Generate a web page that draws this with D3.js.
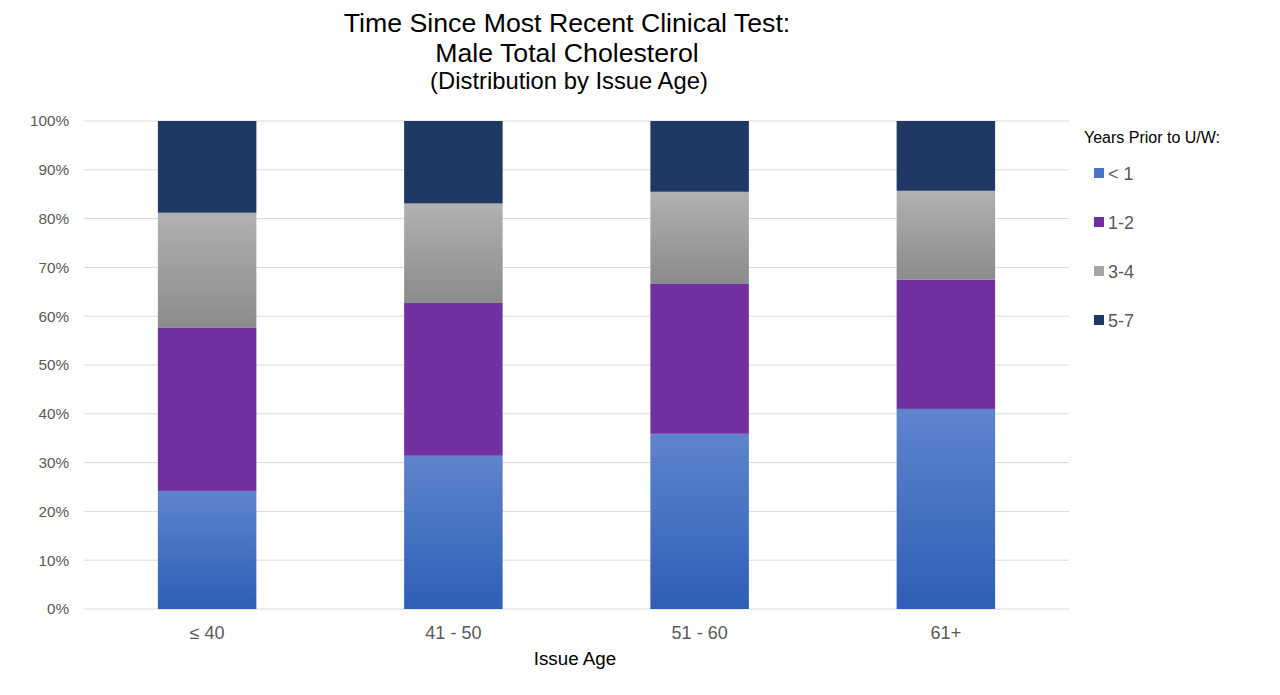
<!DOCTYPE html>
<html>
<head>
<meta charset="utf-8">
<script src="https://cdn.jsdelivr.net/npm/d3@7"></script>
<style>
  body { margin: 0; background: #fff; }
  svg { display: block; font-family: "Liberation Sans", Arial, sans-serif; }
</style>
</head>
<body>
<svg id="chart" width="1280" height="695"></svg>
<script>
const categories = ["\u2264 40", "41 - 50", "51 - 60", "61+"];
const seriesNames = ["< 1", "1-2", "3-4", "5-7"];
const lessThan1 = [24.2, 31.4, 35.9, 41.0];
const years1to2 = [33.4, 31.3, 30.7, 26.5];
const years3to4 = [23.6, 20.4, 18.9, 18.2];
const years5to7 = [18.8, 16.9, 14.5, 14.3];
const yTicks = [0, 10, 20, 30, 40, 50, 60, 70, 80, 90, 100];

const seriesValues = [lessThan1, years1to2, years3to4, years5to7];
const rows = categories.map((c, i) => {
  const r = { cat: c };
  seriesNames.forEach((s, j) => r[s] = seriesValues[j][i]);
  return r;
});

const svg = d3.select("#chart");
const margin = { left: 84, right: 1069, top: 121, bottom: 609 };

const x = d3.scaleBand().domain(categories).range([margin.left, margin.right]).paddingInner(0.6).paddingOuter(0.3);
const y = d3.scaleLinear().domain([0, 100]).range([margin.bottom, margin.top]);

// gradients
const defs = svg.append("defs");
const g1 = defs.append("linearGradient").attr("id", "gBlue").attr("x1", 0).attr("y1", 0).attr("x2", 0).attr("y2", 1);
g1.append("stop").attr("offset", "0%").attr("stop-color", "#5e85cc");
g1.append("stop").attr("offset", "100%").attr("stop-color", "#2e5eb6");
const g3 = defs.append("linearGradient").attr("id", "gGray").attr("x1", 0).attr("y1", 0).attr("x2", 0).attr("y2", 1);
g3.append("stop").attr("offset", "0%").attr("stop-color", "#b1b1b1");
g3.append("stop").attr("offset", "100%").attr("stop-color", "#8b8b8b");

const fills = { "< 1": "url(#gBlue)", "1-2": "#7030a0", "3-4": "url(#gGray)", "5-7": "#1f3864" };
const legendFills = { "< 1": "#4a75c4", "1-2": "#7030a0", "3-4": "#a5a5a5", "5-7": "#1f3864" };

// gridlines
svg.append("g").selectAll("line").data(yTicks).join("line")
  .attr("x1", margin.left).attr("x2", margin.right)
  .attr("y1", d => y(d)).attr("y2", d => y(d))
  .attr("stroke", "#d9d9d9").attr("stroke-width", 1);

// y axis labels
const yAxis = d3.axisLeft(y).tickValues(yTicks).tickFormat(d => d + "%").tickSize(0).tickPadding(15);
const yg = svg.append("g").attr("transform", `translate(${margin.left},0)`).call(yAxis);
yg.select(".domain").remove();
yg.selectAll("text").attr("fill", "#595959").style("font-size", "15.3px").style("font-family", "Liberation Sans, Arial, sans-serif");

// stacked bars
const stack = d3.stack().keys(seriesNames);
const stacked = stack(rows);
svg.append("g").selectAll("g").data(stacked).join("g")
  .attr("fill", d => fills[d.key])
  .selectAll("rect").data(d => d).join("rect")
  .attr("x", d => x(d.data.cat))
  .attr("width", x.bandwidth())
  .attr("y", d => y(d[1]))
  .attr("height", d => y(d[0]) - y(d[1]));

// x axis
const xAxis = d3.axisBottom(x).tickSize(0).tickPadding(17);
const xg = svg.append("g").attr("transform", `translate(0,${margin.bottom})`).call(xAxis);
xg.select(".domain").remove();
xg.selectAll("text").attr("fill", "#595959").style("font-size", "18px").style("font-family", "Liberation Sans, Arial, sans-serif");

// axis title
svg.append("text").attr("x", 575).attr("y", 665).attr("text-anchor", "middle")
  .attr("fill", "#000").style("font-size", "18.8px").text("Issue Age");

// title
const title = svg.append("text").attr("text-anchor", "middle").attr("fill", "#000");
title.append("tspan").attr("x", 567).attr("y", 32).style("font-size", "26.7px").text("Time Since Most Recent Clinical Test:");
title.append("tspan").attr("x", 567).attr("y", 62).style("font-size", "26.7px").text("Male Total Cholesterol");
title.append("tspan").attr("x", 569).attr("y", 89).style("font-size", "23.8px").text("(Distribution by Issue Age)");

// legend
svg.append("text").attr("x", 1084).attr("y", 143).attr("fill", "#000").style("font-size", "16px").text("Years Prior to U/W:");
const leg = svg.append("g").selectAll("g").data(seriesNames).join("g")
  .attr("transform", (d, i) => `translate(1094, ${173 + i * 49})`);
leg.append("rect").attr("x", 0).attr("y", -5).attr("width", 10).attr("height", 10).attr("fill", d => legendFills[d]);
leg.append("text").attr("x", 14).attr("y", 6.5).attr("fill", "#595959").style("font-size", "18px").text(d => d);
</script>
</body>
</html>
